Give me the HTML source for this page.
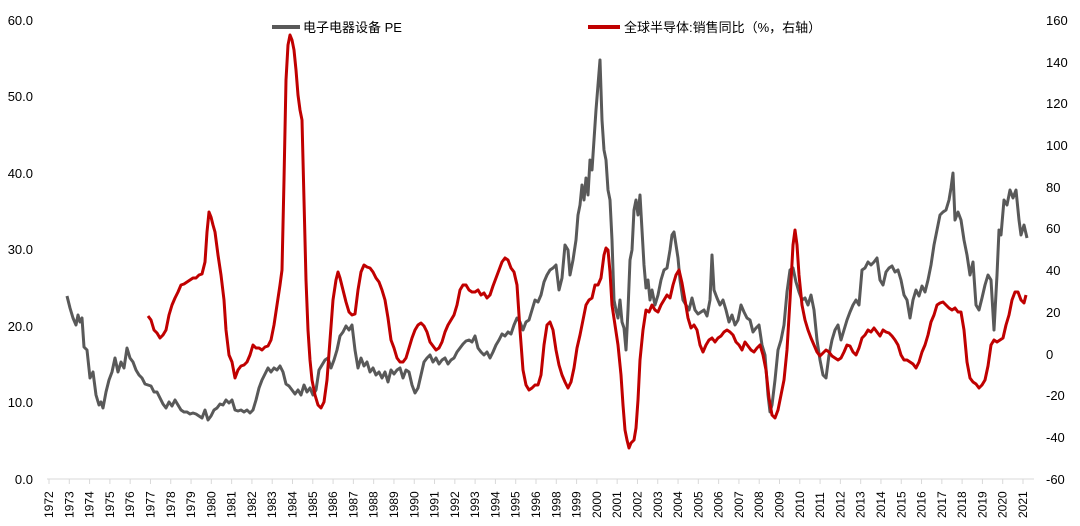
<!DOCTYPE html>
<html><head><meta charset="utf-8"><style>
html,body{margin:0;padding:0;background:#fff;}
svg{display:block;font-family:"Liberation Sans","Noto Sans CJK SC",sans-serif;}
</style></head><body>
<svg width="1080" height="526" viewBox="0 0 1080 526" xmlns="http://www.w3.org/2000/svg">
<line x1="47" y1="479" x2="1034" y2="479" stroke="#d9d9d9" stroke-width="1"/>
<g id="ticks"></g>
<g font-size="13" fill="#000" text-anchor="end">
<text x="33" y="484">0.0</text><text x="33" y="407">10.0</text><text x="33" y="331">20.0</text>
<text x="33" y="254">30.0</text><text x="33" y="178">40.0</text><text x="33" y="101">50.0</text><text x="33" y="25">60.0</text>
</g>
<g font-size="13" fill="#000" text-anchor="start">
<text x="1046" y="25">160</text><text x="1046" y="67">140</text><text x="1046" y="108">120</text>
<text x="1046" y="150">100</text><text x="1046" y="192">80</text><text x="1046" y="233">60</text>
<text x="1046" y="275">40</text><text x="1046" y="317">20</text><text x="1046" y="359">0</text>
<text x="1046" y="400">-20</text><text x="1046" y="442">-40</text><text x="1046" y="484">-60</text>
</g>
<g id="years" font-size="12" fill="#000"></g>
<line x1="272" y1="27" x2="300" y2="27" stroke="#595959" stroke-width="4"/>
<text x="303" y="32" font-size="13">电子电器设备 PE</text>
<line x1="588" y1="27" x2="620" y2="27" stroke="#c00000" stroke-width="4"/>
<text x="624" y="32" font-size="13">全球半导体:销售同比（%，右轴）</text>
<polyline fill="none" stroke="#595959" stroke-width="3" stroke-linejoin="round" points="67,296 70,308 73,318 76,325 78,315 80,322 82,318 84,347 87,350 90,378 93,372 96,395 99,405 101,402 103,408 106,392 109,380 112,372 115,358 118,372 121,362 124,368 127,348 130,358 133,362 136,370 139,375 142,378 145,384 148,385 151,386 154,392 157,392 160,398 163,404 166,408 169,402 172,406 175,400 178,405 181,410 184,412 187,412 190,414 193,413 196,414 199,416 202,418 205,410 208,420 211,416 214,410 217,408 220,404 223,405 226,400 229,403 232,400 235,410 238,411 241,410 244,412 247,410 250,413 253,410 256,400 259,388 262,380 265,374 268,368 271,372 274,368 277,370 280,366 283,372 286,384 289,386 292,390 295,394 298,390 301,395 304,385 307,392 310,388 313,395 316,390 319,370 322,365 325,360 328,358 331,368 334,360 337,350 340,336 343,332 346,326 349,330 352,325 355,350 358,368 361,358 364,366 367,362 370,372 373,368 376,375 379,372 382,378 385,372 388,382 391,370 394,374 397,370 400,368 403,378 406,370 409,372 412,385 415,393 418,388 421,375 424,362 427,358 430,355 433,362 436,358 439,364 442,360 445,358 448,364 451,360 454,358 457,352 460,348 463,344 466,341 469,340 472,342 475,336 478,348 481,352 484,355 487,352 490,358 493,352 496,345 499,340 502,334 505,336 508,332 511,334 514,325 517,318 520,322 523,330 526,322 529,320 532,310 535,300 538,302 541,295 544,282 547,275 550,270 553,268 556,265 559,290 562,278 565,245 568,250 570,275 573,260 576,240 578,215 580,205 582,185 584,200 586,178 588,195 590,160 592,170 594,140 596,110 598,85 600,60 602,120 604,150 606,160 608,190 610,200 612,240 614,300 616,310 618,318 620,300 622,322 624,328 626,350 628,310 630,260 632,250 634,210 636,200 638,215 640,195 642,230 644,265 646,288 648,280 650,300 652,290 655,305 658,295 661,280 664,270 667,268 670,250 672,235 674,232 676,245 678,258 680,280 683,300 686,305 689,310 692,298 695,310 698,314 701,312 704,310 707,316 710,300 712,255 714,290 717,298 720,305 723,300 726,310 729,322 732,315 735,325 738,320 741,305 744,312 747,318 750,320 753,332 756,328 759,325 762,345 765,355 768,395 770,412 772,405 775,380 778,350 781,340 784,325 787,292 790,270 793,268 796,282 799,292 802,300 805,298 808,305 811,295 814,310 817,340 820,360 823,375 826,378 829,355 832,340 835,330 838,325 841,340 844,330 847,320 850,312 853,305 856,300 859,305 862,270 865,268 868,262 871,265 874,262 877,258 880,280 883,285 886,272 889,268 892,266 895,272 898,270 901,280 904,295 907,300 910,318 913,300 916,290 919,296 922,286 925,292 928,280 931,265 934,245 937,230 940,215 943,212 946,210 949,200 951,188 953,173 955,220 958,212 961,220 964,240 967,255 970,275 973,262 976,305 979,310 982,298 985,285 988,275 991,280 994,330 997,275 999,230 1001,235 1004,200 1007,205 1010,190 1013,198 1016,190 1019,220 1021,235 1024,225 1027,238"/>
<polyline fill="none" stroke="#c00000" stroke-width="3" stroke-linejoin="round" points="148,316 151,320 154,330 157,333 160,338 163,335 166,330 169,315 172,305 175,298 178,292 181,285 184,284 187,282 190,280 193,278 196,278 199,275 202,274 205,262 207,232 209,212 211,217 213,225 215,232 218,255 221,275 224,300 226,330 229,355 232,362 235,378 238,370 241,366 244,365 247,362 250,355 253,345 256,348 259,348 262,350 265,347 268,346 271,340 274,325 277,305 280,285 282,270 284,180 286,80 288,45 290,35 292,40 294,50 296,70 298,95 300,110 302,120 304,200 306,280 308,330 310,360 312,380 315,395 318,405 321,408 324,402 327,380 330,340 333,300 336,280 338,272 340,278 343,290 346,302 349,312 352,315 355,314 358,290 361,272 364,265 367,267 370,268 373,272 376,278 379,282 382,290 385,300 388,318 391,340 394,348 397,358 400,362 403,362 406,358 409,348 412,338 415,330 418,325 421,323 424,326 427,332 430,342 433,346 436,350 439,348 442,342 445,332 448,325 451,320 454,315 457,305 460,290 463,285 466,285 469,290 472,292 475,292 478,290 481,295 484,293 487,298 490,295 493,286 496,278 499,270 502,262 505,258 508,260 511,268 514,272 517,285 520,330 523,370 526,385 529,390 532,388 535,385 538,385 541,375 544,345 547,325 550,322 553,330 556,350 559,365 562,375 565,382 568,388 571,382 574,368 577,348 580,335 583,320 586,305 589,300 592,298 595,285 598,285 601,278 604,255 606,248 608,250 610,272 612,305 615,325 618,345 621,375 623,405 625,430 627,440 629,448 631,443 634,440 636,428 638,400 640,360 643,330 646,310 649,312 652,305 655,310 658,312 661,305 664,300 667,295 670,298 673,285 676,275 679,270 682,283 685,300 688,318 691,328 694,325 697,330 700,345 703,352 706,345 709,340 712,338 715,342 718,338 721,336 724,332 727,330 730,332 733,335 736,342 739,345 742,350 745,342 748,346 751,350 754,352 757,348 760,345 763,355 766,370 769,398 772,415 775,418 778,410 781,395 784,380 787,350 790,300 793,245 795,230 797,245 799,275 802,305 805,320 808,330 811,338 814,345 817,352 820,356 823,353 826,350 829,352 832,356 835,358 838,360 841,358 844,352 847,345 850,346 853,352 856,355 859,348 862,338 865,335 868,330 871,332 874,328 877,332 880,336 883,330 886,332 889,333 892,336 895,340 898,345 901,355 904,360 907,360 910,362 913,364 916,368 919,362 922,352 925,345 928,335 931,322 934,315 937,305 940,303 943,302 946,305 949,308 952,310 955,308 958,312 961,312 964,330 967,362 970,378 973,382 976,384 979,388 982,385 985,380 988,366 991,345 994,340 997,342 1000,340 1003,338 1006,325 1009,315 1012,300 1015,292 1018,292 1021,300 1024,303 1026,295"/>
</svg>
<script>
var years=[];for(var y=1972;y<=2021;y++){if(y!==1997)years.push(y);}
var g=document.getElementById('years'),t=document.getElementById('ticks'),ns="http://www.w3.org/2000/svg";
var n=years.length;
for(var i=0;i<n;i++){var x=49+i*(1023-49)/(n-1);
var l=document.createElementNS(ns,'line');l.setAttribute('x1',x);l.setAttribute('x2',x);l.setAttribute('y1',479);l.setAttribute('y2',484);l.setAttribute('stroke','#d9d9d9');t.appendChild(l);
var tx=document.createElementNS(ns,'text');tx.setAttribute('transform','translate('+(x+4)+',518) rotate(-90)');tx.textContent=years[i];g.appendChild(tx);}
</script>
</body></html>
